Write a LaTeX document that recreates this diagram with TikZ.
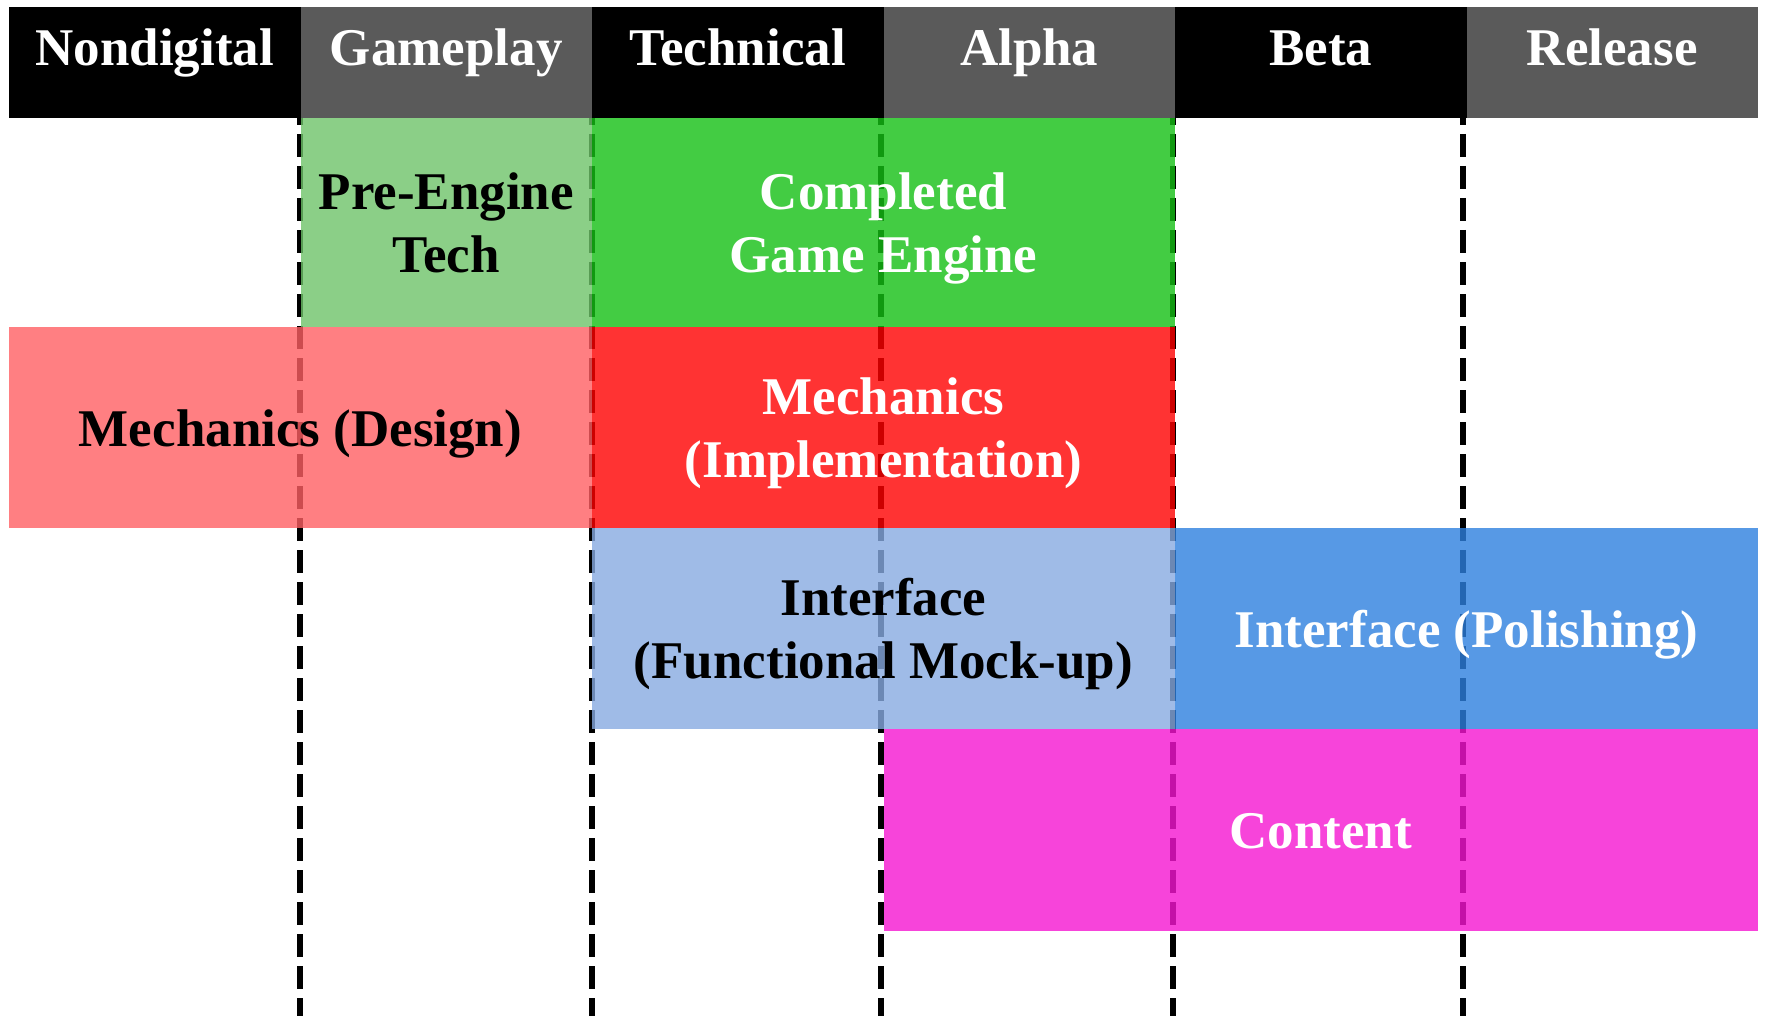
\documentclass[tikz,border=0pt]{standalone}
\usepackage{fontspec}
\setmainfont{Liberation Serif}
\definecolor{hdrgray}{RGB}{90,90,90}
\definecolor{pregreen}{RGB}{111,195,105}
\definecolor{enggreen}{RGB}{20,192,20}
\definecolor{mechpink}{RGB}{255,95,99}
\definecolor{mechred}{RGB}{255,0,0}
\definecolor{uilight}{RGB}{136,171,226}
\definecolor{uiblue}{RGB}{45,128,223}
\definecolor{contmag}{RGB}{245,22,209}
% fixed line box so that every label sits at the same height in its bar
\newcommand\linestrut{\rule[-6.5pt]{0pt}{31.5pt}}
\begin{document}
\begin{tikzpicture}[x=0.5pt,y=-0.5pt,
  lbl/.style={font=\bfseries\fontsize{26.5}{31.5}\selectfont, align=center},
  hdr/.style={lbl, anchor=north west, inner sep=0pt, outer sep=0pt,
    minimum width=145.75pt, minimum height=55.5pt, text=white,
    text height=12pt, text depth=8.5pt},
  task/.style={lbl, anchor=north west, inner sep=0pt, outer sep=0pt,
    fill opacity=0.8, text opacity=1},
  divider/.style={black, line width=3pt, dash pattern=on 11.5pt off 4.5pt,
    dash phase=8pt}]
  % canvas
  \fill[white] (0,0) rectangle (1765,1016);
  \useasboundingbox (0,0) rectangle (1765,1016);

  % phase headers
  \node[hdr, fill=black]   (hnon) at (9,7)      {Nondigital};
  \node[hdr, fill=hdrgray] (hgam) at (300.5,7)  {Gameplay};
  \node[hdr, fill=black]   (htec) at (592,7)    {Technical};
  \node[hdr, fill=hdrgray] (halp) at (883.5,7)  {Alpha};
  \node[hdr, fill=black]   (hbet) at (1175,7)   {Beta};
  \node[hdr, fill=hdrgray] (hrel) at (1466.5,7) {Release};

  % phase dividers
  \draw[divider] (300,118)  -- (300,1016);
  \draw[divider] (592,118)  -- (592,1016);
  \draw[divider] (881,118)  -- (881,1016);
  \draw[divider] (1173,118) -- (1173,1016);
  \draw[divider] (1463,118) -- (1463,1016);

  % work streams
  \node[task, fill=pregreen, text=black, minimum width=145.75pt, minimum height=104.5pt]
    (pre) at (300.5,118) {\linestrut Pre-Engine\\\linestrut Tech};
  \node[task, fill=enggreen, text=white, minimum width=291.5pt, minimum height=104.5pt]
    (eng) at (592,118) {\linestrut Completed\\\linestrut Game Engine};
  \node[task, fill=mechpink, text=black, minimum width=291.5pt, minimum height=100.5pt]
    (mdes) at (9,327) {\linestrut Mechanics (Design)};
  \node[task, fill=mechred, text=white, minimum width=291.5pt, minimum height=100.5pt]
    (mimp) at (592,327) {\linestrut Mechanics\\\linestrut (Implementation)};
  \node[task, fill=uilight, text=black, minimum width=291.5pt, minimum height=100.5pt]
    (ifun) at (592,528) {\linestrut Interface\\\linestrut (Functional Mock-up)};
  \node[task, fill=uiblue, text=white, minimum width=291.5pt, minimum height=100.5pt]
    (ipol) at (1175,528) {\linestrut Interface (Polishing)};
  \node[task, fill=contmag, text=white, minimum width=437.25pt, minimum height=101pt]
    (cont) at (883.5,729) {\linestrut Content};
\end{tikzpicture}
\end{document}
